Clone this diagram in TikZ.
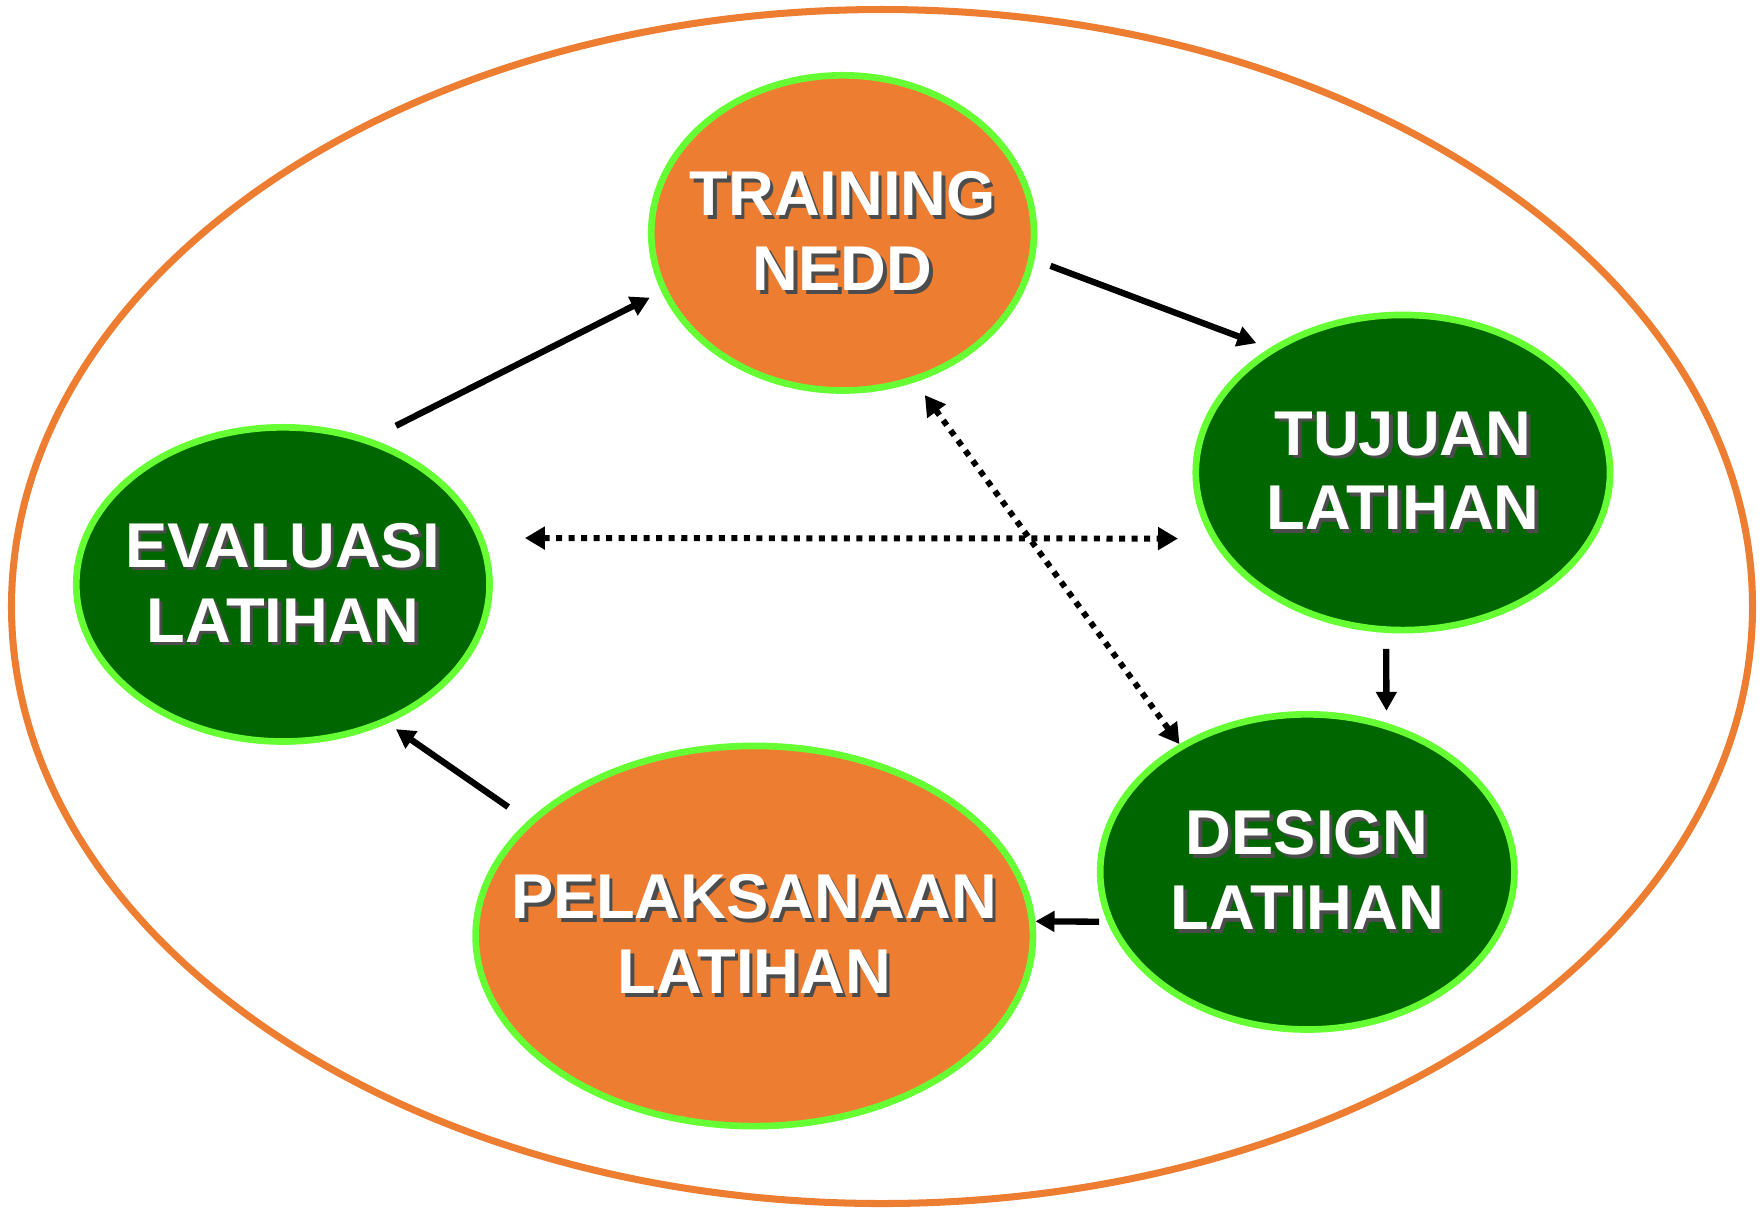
\documentclass[tikz,border=0pt]{standalone}
\usepackage{fontspec}
\setmainfont{Liberation Sans}
\usepackage{tikz}
\usetikzlibrary{shapes.geometric,arrows.meta,calc,positioning}
\definecolor{orng}{HTML}{ED7D31}
\definecolor{dgreen}{HTML}{006600}
\definecolor{lime}{HTML}{66FF33}
\newcommand{\shd}[1]{\rlap{\kern1pt\raisebox{-1pt}{\color{black!70}#1}}#1}

\begin{document}
\begin{tikzpicture}[x=0.01cm, y=-0.01cm,
   ball/.style={ellipse, draw=lime, line width=1.9pt, inner sep=0pt},
   txt/.style={text=white, font=\fontsize{18}{21.3}\selectfont\bfseries, align=center}]
   \useasboundingbox (0,0) rectangle (1764,1211);
   \draw[orng, line width=2pt] (882,606.5) ellipse [x radius=870.5, y radius=597];
   \begin{scope}
    \node (training) [ball, fill=orng, minimum width=3.825cm, minimum height=3.15cm,
       label={[txt]center:{\shd{TRAINING}\\\shd{NEDD}}}] at (842.6,232.9) {};
    \node (tujuan) [ball, fill=dgreen, minimum width=4.14cm, minimum height=3.15cm,
       label={[txt]center:{\shd{TUJUAN}\\\shd{LATIHAN}}}] at (1402.9,472.5) {};
    \node (design) [ball, fill=dgreen, minimum width=4.14cm, minimum height=3.15cm,
       label={[txt]center:{\shd{DESIGN}\\\shd{LATIHAN}}}] at (1307.3,871.9) {};
    \node (pelaksanaan) [ball, fill=orng, minimum width=5.57cm, minimum height=3.80cm,
       label={[txt]center:{\shd{PELAKSANAAN}\\\shd{LATIHAN}}}] at (754.3,936) {};
    \node (evaluasi) [ball, fill=dgreen, minimum width=4.13cm, minimum height=3.14cm,
       label={[txt]center:{\shd{EVALUASI}\\\shd{LATIHAN}}}] at (282.9,584.4) {};
   \end{scope}
   \begin{scope}[every edge/.style={draw=black, line width=1.8pt,
      -{Triangle[length=0.19cm,width=0.2cm]}}]
    \draw (evaluasi.59) edge [shorten <=0.285cm, shorten >=0.13cm] (training.198);
    \draw (training.352) edge [shorten <=0.17cm, shorten >=0.14cm] (tujuan.137);
    \draw (tujuan.264) edge [shorten <=0.16cm, shorten >=0.12cm] (design.62);
    \draw (design.194) edge [shorten <=0.08cm] (pelaksanaan.3);
    \draw (pelaksanaan.153) edge [shorten <=0.24cm, shorten >=0.10cm] (evaluasi.307);
   \end{scope}
   \begin{scope}[every edge/.style={draw=black, line width=1.7pt, dash pattern=on 0.06cm off 0.065cm,
      {Triangle[length=0.2cm,width=0.22cm]}-{Triangle[length=0.2cm,width=0.22cm]}}]
    \draw (evaluasi.13) edge [shorten <=0.41cm, shorten >=0.33cm] (tujuan.199);
    \draw (training.296) edge [shorten <=0.16cm] (design.135);
   \end{scope}
\end{tikzpicture}
\end{document}
